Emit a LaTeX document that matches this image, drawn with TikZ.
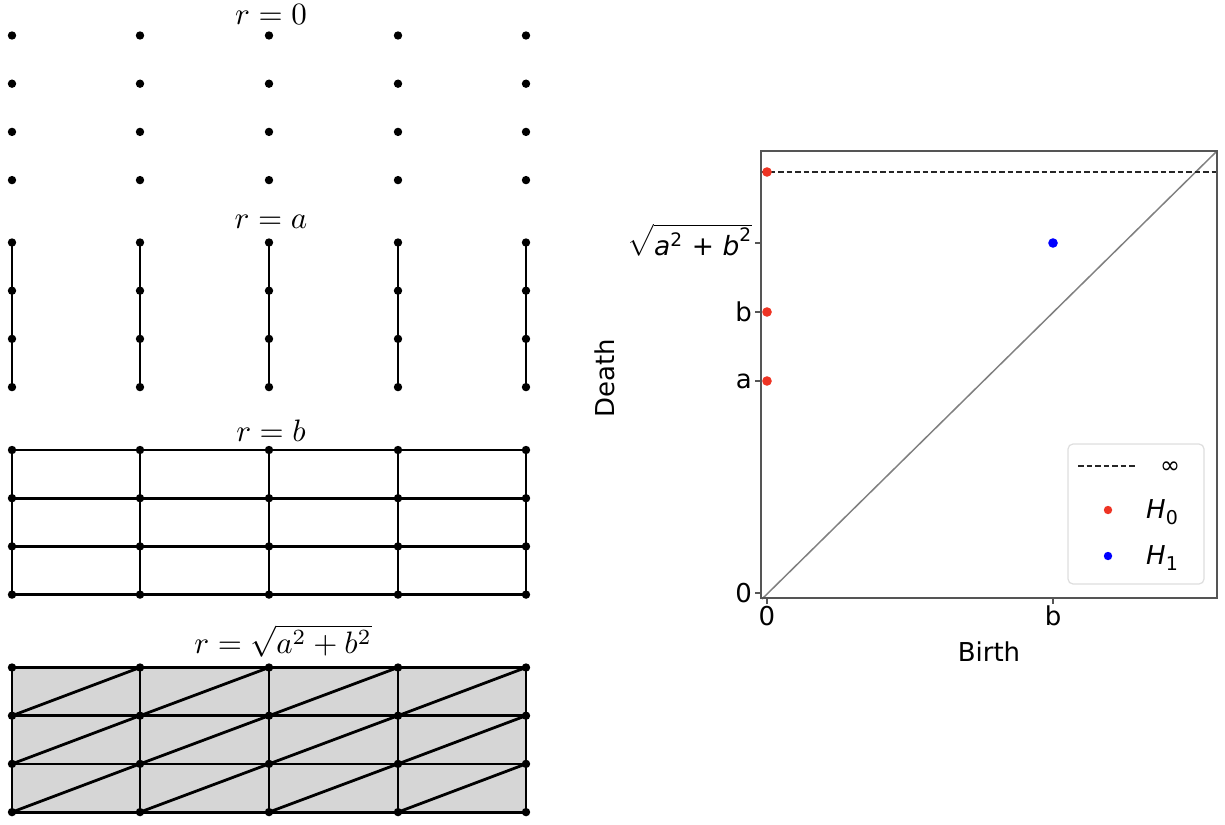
\documentclass[tikz,border=0pt]{standalone}
\usepackage{fontspec}
\newfontfamily\dv{DejaVu Sans}
\definecolor{spinec}{RGB}{85,85,85}
\definecolor{mplred}{RGB}{238,52,36}
\definecolor{mplblue}{RGB}{0,0,255}
\definecolor{fillg}{RGB}{214,214,214}
\definecolor{legc}{RGB}{222,222,222}
\tikzset{
  edge/.style={line width=2.8pt, black},
  vtx/.style={black},
  rlabel/.style={font=\fontsize{10}{12}\selectfont, inner sep=0pt, scale=3.1},
  spine/.style={line width=1.3pt, draw=spinec},
  tick/.style={line width=1.1pt, draw=spinec},
  plabel/.style={font=\dv\fontsize{26}{30}\selectfont, inner sep=0pt},
  pt/.style={inner sep=0pt},
}
\begin{document}
\begin{tikzpicture}[x=1pt,y=-1pt]
\useasboundingbox (0,0) rectangle (1225,824);
% grid coordinates
\foreach \k/\top in {1/35.5,2/242.5,3/450,4/667.5}{
  \foreach \xx [count=\ii from 0] in {12,140,269,398,526}{
    \foreach \j in {0,...,3}{
      \coordinate (g\k-\ii-\j) at (\xx, \top+48.2*\j);
    }}}
% labels
\node[rlabel] (l1) at (271,15) {$r=0$};
\node[rlabel] (l2) at (271,222) {$r=a$};
\node[rlabel] (l3) at (271,431) {$r=b$};
\node[rlabel] (l4) at (283,641) {$r=\sqrt{a^2+b^2}$};
% grid 4 fill
\fill[fillg] (g4-0-0) rectangle (g4-4-3);
% grid 2 edges
\foreach \i in {0,...,4}{
  \draw[edge] (g2-\i-0) -- (g2-\i-3);
}
% grid 3 and 4 edges
\foreach \k in {3,4}{
  \foreach \i in {0,...,4}{
    \draw[edge] (g\k-\i-0) -- (g\k-\i-3);
  }
  \foreach \j in {0,...,3}{
    \draw[edge] (g\k-0-\j) -- (g\k-4-\j);
  }
}
% diagonals
\foreach \i [evaluate=\i as \ni using int(\i+1)] in {0,...,3}{
  \foreach \j [evaluate=\j as \nj using int(\j+1)] in {0,...,2}{
    \draw[edge] (g4-\i-\nj) -- (g4-\ni-\j);
  }
}
% vertices
\foreach \k in {1,...,4}{
  \foreach \i in {0,...,4}{
    \foreach \j in {0,...,3}{
      \fill[vtx] (g\k-\i-\j) circle (4.2pt);
    }}}
% ---------- persistence diagram ----------
\coordinate (bl) at (761,598);
\coordinate (tr) at (1217,151);
\coordinate (d0) at (762,599);
\coordinate (infL) at (761,172);
\coordinate (infR) at (1217,172);
% diagonal
\draw[line width=1.5pt, draw=gray] (d0) -- (tr);
% infinity line
\draw[line width=1.5pt, draw=black!85, dash pattern=on 5.5pt off 3pt] (infL) -- (infR);
% spines
\draw[spine] (bl) rectangle (tr);
% ticks
\foreach \y/\n in {593/y0,381/ya,312/yb,243/ys}{
  \coordinate (\n) at (761,\y);
  \coordinate (\n t) at (755,\y);
  \draw[tick] (\n) -- (\n t);
}
\foreach \x/\n in {767/x0,1053/xb}{
  \coordinate (\n) at (\x,598);
  \coordinate (\n t) at (\x,604);
  \draw[tick] (\n) -- (\n t);
}
% tick labels
\node[plabel, anchor=east] (ty0) at (752,593) {0};
\node[plabel, anchor=east] (tya) at (752,381) {a};
\node[plabel, anchor=east] (tyb) at (752,312) {b};
\node[inner sep=0pt, anchor=east, scale=2.65] (tys) at (753,240) {$\sqrt{\mbox{\dv\fontsize{10}{12}\selectfont\itshape a}^{\mbox{\dv\fontsize{7}{8}\selectfont 2}}\mbox{\dv\fontsize{10}{12}\selectfont\ +\ }\mbox{\dv\fontsize{10}{12}\selectfont\itshape b}^{\mbox{\dv\fontsize{7}{8}\selectfont 2}}}$};
\node[plabel, anchor=north] (tx0) at (767,606) {0};
\node[plabel, anchor=north] (txb) at (1053,606) {b};
\node[plabel] (xlab) at (989,652) {Birth};
\node[plabel, rotate=90] (ylab) at (605,378) {Death};
% points
\fill[mplred] (767,172) circle (4.8pt);
\fill[mplred] (767,312) circle (4.8pt);
\fill[mplred] (767,381) circle (4.8pt);
\fill[mplblue] (1053,243) circle (4.8pt);
% legend
\draw[draw=legc, line width=1.2pt, fill=white, rounded corners=5pt] (1068,444) rectangle (1204,584);
\coordinate (legA) at (1078,466);
\coordinate (legB) at (1135,466);
\draw[line width=1.5pt, draw=black!85, dash pattern=on 5.5pt off 3pt] (legA) -- (legB);
\node[plabel, font=\dv\fontsize{24}{26}\selectfont] (linf) at (1170,468) {∞};
\fill[mplred] (1108,510) circle (4.2pt);
\fill[mplblue] (1108,556) circle (4.2pt);
\node[plabel, anchor=west] (lh0) at (1146,512) {{\itshape H}\textsubscript{\fontsize{19}{20}\selectfont 0}};
\node[plabel, anchor=west] (lh1) at (1146,558) {{\itshape H}\textsubscript{\fontsize{19}{20}\selectfont 1}};
\end{tikzpicture}
\end{document}
